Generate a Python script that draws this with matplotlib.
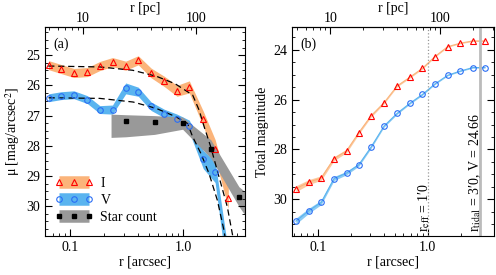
import numpy as np
import matplotlib
matplotlib.use("Agg")
import matplotlib.pyplot as plt
from matplotlib.lines import Line2D
from matplotlib.ticker import MultipleLocator, FixedLocator, NullFormatter

plt.rcParams['font.family'] = ['Liberation Serif', 'DejaVu Serif']
plt.rcParams['mathtext.fontset'] = 'stix'
plt.rcParams['font.size'] = 10

# --- panel (a): surface brightness profiles ---
r_I = [0.0645, 0.0834, 0.108, 0.142, 0.183, 0.237, 0.31, 0.40, 0.52, 0.68, 0.88, 1.13, 1.50, 1.91, 2.50]
mu_I = [25.33, 25.46, 25.59, 25.56, 25.36, 25.23, 25.35, 25.17, 25.59, 25.87, 26.18, 26.05, 27.10, 28.09, 29.72]
err_I = [0.15, 0.15, 0.15, 0.15, 0.15, 0.15, 0.15, 0.15, 0.16, 0.17, 0.18, 0.2, 0.25, 0.3, 0.35]

r_V = [0.0645, 0.0834, 0.108, 0.142, 0.183, 0.237, 0.31, 0.40, 0.52, 0.68, 0.88, 1.13, 1.50, 1.91, 2.50]
mu_V = [26.41, 26.34, 26.31, 26.47, 26.80, 26.80, 26.10, 26.21, 26.69, 26.93, 27.10, 27.35, 28.45, 28.86, 32.0]
err_V = [0.13, 0.13, 0.13, 0.13, 0.13, 0.15, 0.18, 0.15, 0.14, 0.14, 0.15, 0.2, 0.3, 0.35, 0.5]

# model fits
fit_I_r = [0.064, 0.183, 0.357, 0.58, 0.85, 1.21, 1.38, 1.53, 1.75, 2.07, 2.45, 2.71, 2.9]
fit_I_mu = [25.36, 25.39, 25.50, 25.70, 25.95, 26.32, 26.82, 27.37, 28.04, 29.03, 30.02, 30.9, 31.5]
fit_V_r = [0.0645, 0.183, 0.36, 0.576, 0.863, 1.09, 1.21, 1.43, 1.69, 2.0, 2.29, 2.45]
fit_V_mu = [26.41, 26.43, 26.55, 26.76, 27.04, 27.26, 27.70, 28.25, 28.92, 29.80, 30.80, 31.5]

# star counts
r_sc = [0.31, 0.557, 0.986, 1.75, 3.1]
mu_sc = [27.19, 27.22, 27.24, 28.09, 29.69]
band_sc_r = [0.23, 0.31, 0.557, 0.986, 1.75, 3.1, 3.6]
band_sc_hi = [26.95, 26.97, 27.0, 27.05, 27.8, 29.35, 29.55]
band_sc_lo = [27.72, 27.7, 27.62, 27.45, 28.4, 30.0, 30.35]

# --- panel (b): cumulative total magnitude ---
r_tot = [0.063, 0.0828, 0.107, 0.14, 0.182, 0.236, 0.303, 0.40, 0.526, 0.686, 0.895, 1.16, 1.52, 1.98, 2.57, 3.32]
tot_I = [29.58, 29.31, 29.15, 28.37, 28.06, 27.32, 26.66, 26.12, 25.45, 25.10, 24.74, 24.27, 23.87, 23.73, 23.64, 23.64]
tot_V = [30.88, 30.46, 30.13, 29.17, 28.95, 28.61, 27.92, 27.06, 26.55, 26.15, 25.79, 25.37, 25.02, 24.85, 24.71, 24.71]
tot_err = [0.12, 0.1, 0.09, 0.08, 0.07, 0.06, 0.05, 0.04, 0.035, 0.03, 0.03, 0.025, 0.02, 0.02, 0.02, 0.02]

r_eff = 1.0
r_tidal = 3.0
pc_per_unit = 77.0

c_orange = '#fbb47a'
c_blue = '#5ab4ef'
c_gray = '#999999'
c_blue_mk = '#2a6ef5'

fig = plt.figure(figsize=(4.96, 2.75), dpi=100)
ax1 = fig.add_axes([0.0907, 0.1418, 0.403, 0.76])
ax2 = fig.add_axes([0.5887, 0.1418, 0.407, 0.76])


def style_axis(ax):
    ax.set_xscale('log')
    ax.tick_params(which='both', direction='in', top=False, right=True)
    ax.tick_params(which='major', length=5, width=0.8)
    ax.tick_params(which='minor', length=2.5, width=0.6)
    ax.xaxis.set_major_locator(FixedLocator([0.1, 1.0]))
    ax.set_xticklabels(['0.1', '1.0'])
    ax.xaxis.set_minor_formatter(NullFormatter())
    sec = ax.secondary_xaxis('top', functions=(lambda r: r * pc_per_unit,
                                                lambda p: p / pc_per_unit))
    sec.tick_params(which='both', direction='in', pad=1.5)
    sec.tick_params(which='major', length=5, width=0.8)
    sec.tick_params(which='minor', length=2.5, width=0.6)
    sec.xaxis.set_major_locator(FixedLocator([10, 100]))
    sec.set_xticklabels(['10', '100'])
    sec.xaxis.set_minor_formatter(NullFormatter())
    sec.set_xlabel('r [pc]', labelpad=0)
    ax.set_xlabel('r [arcsec]', labelpad=1)


# panel (a)
style_axis(ax1)
ax1.fill_between(r_I, np.array(mu_I) - err_I, np.array(mu_I) + err_I, color=c_orange, lw=0)
ax1.fill_between(r_V, np.array(mu_V) - err_V, np.array(mu_V) + err_V, color=c_blue, lw=0)
ax1.fill_between(band_sc_r, band_sc_hi, band_sc_lo, color=c_gray, lw=0)
ax1.plot(fit_I_r, fit_I_mu, color='black', ls=(0, (5, 3)), lw=0.9)
ax1.plot(fit_V_r, fit_V_mu, color='black', ls=(0, (5, 3)), lw=0.9)
ax1.plot(r_I, mu_I, ls='none', marker='^', ms=4, mfc='none', mec='red', mew=0.8)
ax1.plot(r_V, mu_V, ls='none', marker='o', ms=4, mfc='none', mec=c_blue_mk, mew=0.8)
ax1.plot(r_sc, mu_sc, ls='none', marker='s', ms=3.5, color='black')
ax1.set_xlim(0.06, 3.5)
ax1.set_ylim(30.98, 24.07)
ax1.yaxis.set_major_locator(MultipleLocator(1))
ax1.yaxis.set_minor_locator(MultipleLocator(0.25))
ax1.set_ylabel('μ [mag/arcsec$^2$]', labelpad=3)
ax1.text(0.04, 0.95, '(a)', transform=ax1.transAxes, va='top', ha='left')

handles = [
    (Line2D([], [], color=c_orange, lw=9, solid_capstyle='butt'),
     Line2D([], [], ls='none', marker='^', ms=4, mfc='none', mec='red', mew=0.8)),
    (Line2D([], [], color=c_blue, lw=9, solid_capstyle='butt'),
     Line2D([], [], ls='none', marker='o', ms=4, mfc='none', mec=c_blue_mk, mew=0.8)),
    (Line2D([], [], color=c_gray, lw=9, solid_capstyle='butt'),
     Line2D([], [], ls='none', marker='s', ms=3.5, color='black')),
]
ax1.legend(handles, ['I', 'V', 'Star count'], loc='lower left', bbox_to_anchor=(0.02, 0.03),
           frameon=False, numpoints=3, handlelength=2.8, labelspacing=0.3,
           handletextpad=0.5, borderaxespad=0)

# panel (b)
style_axis(ax2)
ax2.fill_between(r_tot, np.array(tot_I) - tot_err, np.array(tot_I) + tot_err, color=c_orange, lw=0, alpha=0.7)
ax2.fill_between(r_tot, np.array(tot_V) - tot_err, np.array(tot_V) + tot_err, color=c_blue, lw=0, alpha=0.7)
ax2.plot(r_tot, tot_I, color=c_orange, lw=0.8, marker='^', ms=4, mfc='none', mec='red', mew=0.8)
ax2.plot(r_tot, tot_V, color=c_blue, lw=0.8, marker='o', ms=4, mfc='none', mec=c_blue_mk, mew=0.8)
ax2.axvline(r_eff, color='#999999', ls=':', lw=0.9)
ax2.axvline(r_tidal, color='#bbbbbb', lw=2)
ax2.set_xlim(0.058, 4.0)
ax2.set_ylim(31.48, 23.08)
ax2.yaxis.set_major_locator(MultipleLocator(2))
ax2.yaxis.set_minor_locator(MultipleLocator(0.5))
ax2.set_ylabel('Total magnitude', labelpad=3)
ax2.text(0.04, 0.95, '(b)', transform=ax2.transAxes, va='top', ha='left')
ax2.text(0.93, 31.3, "r$_{\\rm eff}$ = 1\u20320", rotation=90, ha='center', va='bottom')
ax2.text(2.72, 31.3, "r$_{\\rm tidal}$ = 3\u20320, V = 24.66", rotation=90, ha='center', va='bottom')

fig.savefig('out.png', dpi=100)
